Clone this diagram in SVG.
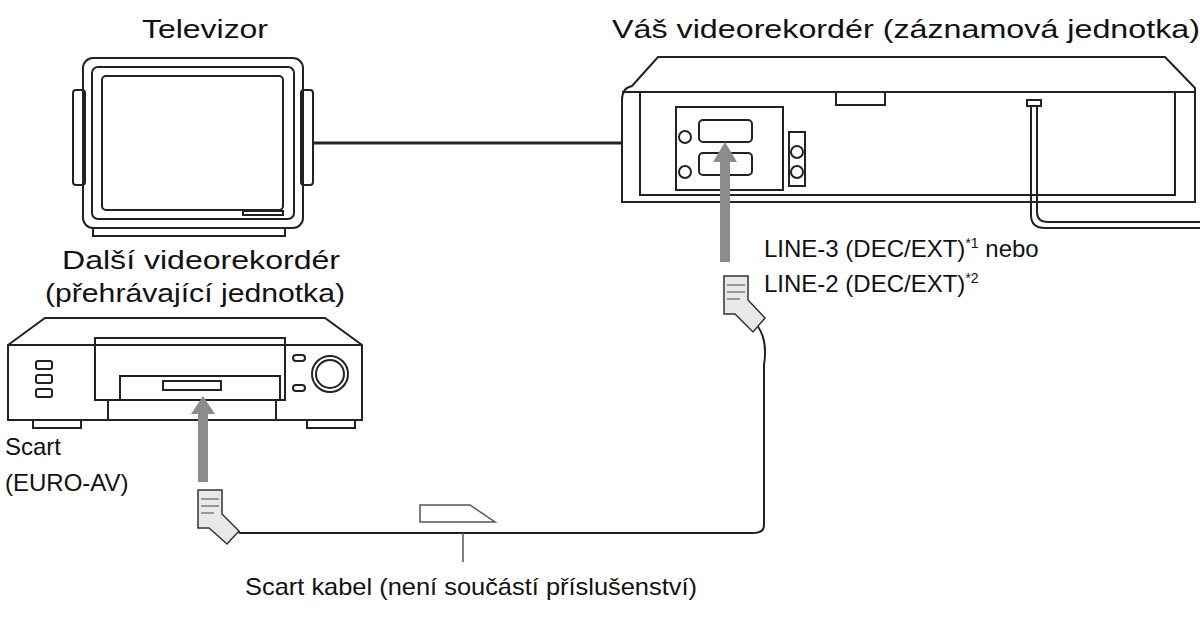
<svg xmlns="http://www.w3.org/2000/svg" width="1204" height="620" viewBox="0 0 1204 620">
<style>
.l{fill:none;stroke:#222;stroke-width:2}
.t{font-family:"Liberation Sans",Arial,sans-serif;font-size:24px;fill:#111}
.b{font-size:26px}
.s{font-size:14px}
.g{fill:#8c8c8c}
.p{fill:#e8e8e8;stroke:#333;stroke-width:1.5}
</style>
<rect width="1204" height="620" fill="#fff"/>
<g id="tv">
<rect class="l" x="73" y="90" width="12" height="95" rx="3"/>
<rect class="l" x="301" y="90" width="12" height="95" rx="3"/>
<rect class="l" x="83" y="58" width="220" height="170" rx="10" fill="#fff"/>
<rect class="l" x="92" y="67" width="202" height="152" rx="6"/>
<rect class="l" x="102" y="76" width="181" height="134" rx="4"/>
<rect class="l" x="243" y="211" width="40" height="4"/>
<path class="l" d="M93 228 v8 h192 v-8"/>
<text class="t b" x="142" y="38" textLength="126" lengthAdjust="spacingAndGlyphs">Televizor</text>
</g>
<g id="vcr-main">
<path class="l" d="M622 202 V100 Q622 88 632 86 L658 57 H1165 L1195 88 V202 Z" fill="#fff"/>
<path class="l" d="M622 92 H1195"/>
<path class="l" d="M640 92 V195 H1175 V92"/>
<path class="l" d="M836 92 V105 H885 V92"/>
<rect class="l" x="676" y="107" width="107" height="83" stroke-width="1.2"/>
<rect class="l" x="699" y="120" width="53" height="22" rx="4"/>
<rect class="l" x="699" y="153" width="53" height="22" rx="4"/>
<circle class="l" cx="685" cy="137" r="6"/><circle class="l" cx="685" cy="172" r="6"/>
<rect class="l" x="789" y="132" width="16" height="54" stroke-width="1.2"/>
<circle class="l" cx="797" cy="152" r="6"/><circle class="l" cx="797" cy="172" r="6"/>
<rect class="l" x="1027" y="100" width="14" height="6"/>
<path class="l" d="M1031 106 V215 Q1031 228 1045 228 H1200"/>
<path class="l" d="M1037 106 V212 Q1037 222 1048 222 H1200"/>
<text class="t b" x="612" y="38" textLength="588" lengthAdjust="spacingAndGlyphs">Váš videorekordér (záznamová jednotka)</text>
<text class="t" x="764" y="257" font-size="25">LINE-3 (DEC/EXT)<tspan class="s" dy="-9">*1</tspan><tspan dy="9"> nebo</tspan></text>
<text class="t" x="764" y="292" font-size="25">LINE-2 (DEC/EXT)<tspan class="s" dy="-9">*2</tspan></text>
</g>
<g id="vcr-other">
<path class="l" d="M8 345 L45 318 H325 L362 345 V420 H8 Z" fill="#fff"/>
<path class="l" d="M8 345 H362"/>
<rect class="l" x="95" y="338" width="190" height="62"/>
<rect class="l" x="120" y="376" width="160" height="24"/>
<rect class="l" x="163" y="381" width="58" height="9"/>
<rect class="l" x="108" y="400" width="168" height="20"/>
<rect class="l" x="36" y="361" width="16" height="8" rx="2"/><rect class="l" x="36" y="375" width="16" height="8" rx="2"/><rect class="l" x="36" y="389" width="16" height="8" rx="2"/>
<rect class="l" x="293" y="355" width="12" height="6" rx="3"/><rect class="l" x="293" y="385" width="12" height="6" rx="3"/>
<circle class="l" cx="330" cy="374" r="18"/><circle class="l" cx="330" cy="374" r="14"/>
<path class="l" d="M33 420 v8 h48 v-8 M307 420 v8 h48 v-8"/>
<text class="t b" x="62" y="269" textLength="278" lengthAdjust="spacingAndGlyphs">Další videorekordér</text>
<text class="t b" x="45" y="302" textLength="300" lengthAdjust="spacingAndGlyphs">(přehrávající jednotka)</text>
<text class="t" x="5" y="455">Scart</text>
<text class="t" x="5" y="491">(EURO-AV)</text>
</g>
<g id="connectors">
<path d="M313 143 H622" stroke="#222" stroke-width="3" fill="none"/>
<path class="g" d="M720 262 V162 H713 L725 142 L737 162 H730 V262 Z"/>
<path class="g" d="M198 482 V414 H191 L203 396 L215 414 H208 V482 Z"/>
<path class="l" d="M757 325 Q768 340 764 365 V525 Q764 533 754 533 H240 L232 527"/>
<path class="p" d="M724 276 H748 V300 L765 318 L753 332 L735 314 H724 Z"/>
<path d="M727 285 H745 M727 292 H745 M727 299 H740" stroke="#444" stroke-width="1"/>
<path class="p" d="M198 490 H222 V514 L239 531 L227 544 L209 528 H198 Z"/>
<path d="M201 499 H219 M201 506 H219 M201 513 H214" stroke="#444" stroke-width="1"/>
<path d="M420 505 H470 L495 522 H420 Z" fill="#fff" stroke="#555" stroke-width="1.5"/>
<path d="M463 533 V562" stroke="#555" stroke-width="1.5"/>
<text class="t" x="245" y="595" font-size="25" textLength="452" lengthAdjust="spacingAndGlyphs">Scart kabel (není součástí příslušenství)</text>
</g>
</svg>
